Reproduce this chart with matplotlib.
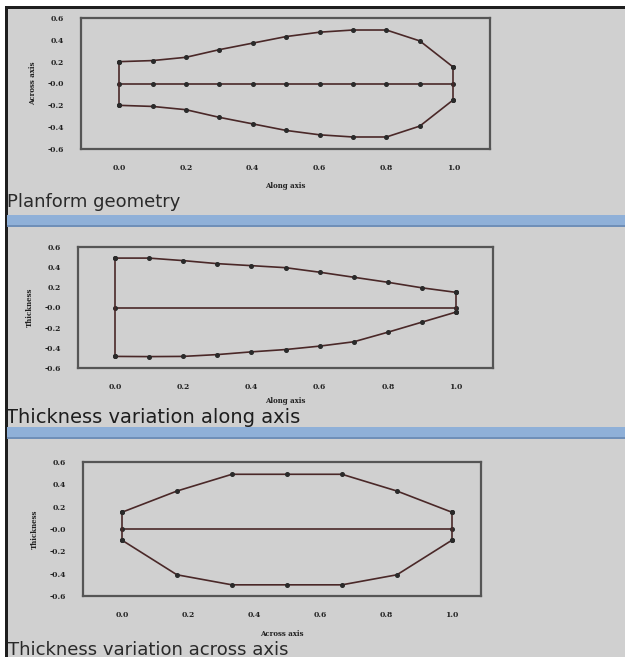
import numpy as np
import matplotlib
matplotlib.use("Agg")
import matplotlib.pyplot as plt
from matplotlib.patches import Rectangle

# ---------------- data ----------------
along_x = [0.0, 0.1, 0.2, 0.3, 0.4, 0.5, 0.6, 0.7, 0.8, 0.9, 1.0]
plan_upper = [0.20, 0.21, 0.24, 0.31, 0.37, 0.43, 0.47, 0.49, 0.49, 0.39, 0.15]
plan_lower = [-0.20, -0.21, -0.24, -0.31, -0.37, -0.43, -0.47, -0.49, -0.49, -0.39, -0.15]
plan_center = [0.0] * 11

thick_upper = [0.49, 0.49, 0.465, 0.435, 0.415, 0.395, 0.35, 0.30, 0.25, 0.195, 0.15]
thick_lower = [-0.485, -0.487, -0.485, -0.467, -0.44, -0.417, -0.383, -0.34, -0.245, -0.145, -0.045]

across_x = [0.0, 1/6, 2/6, 3/6, 4/6, 5/6, 1.0]
across_upper = [0.15, 0.34, 0.49, 0.49, 0.49, 0.34, 0.15]
across_lower = [-0.10, -0.41, -0.50, -0.50, -0.50, -0.41, -0.10]

x_ticks = [0.0, 0.2, 0.4, 0.6, 0.8, 1.0]
x_ticklabels = ["0.0", "0.2", "0.4", "0.6", "0.8", "1.0"]
y_ticks = [0.6, 0.4, 0.2, 0.0, -0.2, -0.4, -0.6]
y_ticklabels = ["0.6", "0.4", "0.2", "-0.0", "-0.2", "-0.4", "-0.6"]

panel_titles = ["Planform geometry", "Thickness variation along axis",
                "Thickness variation across axis"]

# ---------------- figure ----------------
W, H = 625, 657
BG = "#d0d0d0"
LINE = "#4a2828"
fig = plt.figure(figsize=(W / 100, H / 100), dpi=100)
fig.patch.set_facecolor(BG)

def fr(x, y, w, h):
    # pixel box (top-left origin) -> figure fraction
    return [x / W, 1 - (y + h) / H, w / W, h / H]

# window chrome
for (x, y, w, h, c) in [
    (0, 0, W, 6, "white"), (0, 0, 5, H, "white"),
    (5, 6, W - 5, 2.5, "#1e1e1e"), (5, 6, 2.5, H - 6, "#1e1e1e"),
    (7, 215, W - 7, 10, "#8fb0d8"), (7, 225, W - 7, 2, "#6f8fb8"),
    (7, 427, W - 7, 10, "#8fb0d8"), (7, 437, W - 7, 2, "#6f8fb8"),
]:
    b = fr(x, y, w, h)
    fig.patches.append(Rectangle((b[0], b[1]), b[2], b[3], transform=fig.transFigure,
                                 facecolor=c, edgecolor="none", zorder=0))

tick_font = dict(family="DejaVu Serif", weight="bold", size=5.5)
label_font = dict(family="DejaVu Serif", weight="bold", size=5)

def style_axes(ax, xlim, xlabel, ylabel, xlabelpad):
    ax.set_facecolor(BG)
    ax.set_xlim(*xlim)
    ax.set_ylim(-0.6, 0.6)
    ax.set_xticks(x_ticks)
    ax.set_xticklabels(x_ticklabels, **tick_font)
    ax.set_yticks(y_ticks)
    ax.set_yticklabels(y_ticklabels, **tick_font)
    ax.tick_params(length=0, colors="#222222")
    ax.tick_params(axis="x", pad=11)
    ax.tick_params(axis="y", pad=12)
    for s in ax.spines.values():
        s.set_color("#555555")
        s.set_linewidth(1.6)
    ax.set_xlabel(xlabel, labelpad=xlabelpad, color="#222222", **label_font)
    ax.set_ylabel(ylabel, labelpad=8, color="#222222", **label_font)

mk = dict(marker="o", markersize=2.6, markerfacecolor="#2a2a2a",
          markeredgecolor="#2a2a2a", color=LINE, linewidth=1.2)

# ---- panel 1 ----
ax1 = fig.add_axes(fr(81, 18, 409, 131))
ax1.plot(along_x, plan_upper, **mk)
ax1.plot(along_x, plan_lower, **mk)
ax1.plot(along_x, plan_center, **mk)
ax1.plot([along_x[0]] * 2, [plan_lower[0], plan_upper[0]], **mk)
ax1.plot([along_x[-1]] * 2, [plan_lower[-1], plan_upper[-1]], **mk)
style_axes(ax1, (-0.114, 1.11), "Along axis", "Across axis", 7)
fig.text(7 / W, 1 - 207 / H, panel_titles[0], fontsize=13, color="#2a2a2a",
         family="DejaVu Sans", va="baseline")

# ---- panel 2 ----
ax2 = fig.add_axes(fr(78, 247, 415, 121))
ax2.plot(along_x, thick_upper, **mk)
ax2.plot(along_x, thick_lower, **mk)
ax2.plot([along_x[0], along_x[-1]], [0.0, 0.0], **mk)
ax2.plot([along_x[0]] * 2, [thick_lower[0], thick_upper[0]], **mk)
ax2.plot([along_x[-1]] * 2, [thick_lower[-1], thick_upper[-1]], **mk)
style_axes(ax2, (-0.108, 1.108), "Along axis", "Thickness", 4)
fig.text(6 / W, 1 - 423 / H, panel_titles[1], fontsize=14, color="#1e1e1e",
         family="DejaVu Sans", va="baseline")

# ---- panel 3 ----
ax3 = fig.add_axes(fr(83, 462, 398, 134))
ax3.plot(across_x, across_upper, **mk)
ax3.plot(across_x, across_lower, **mk)
ax3.plot([across_x[0], across_x[-1]], [0.0, 0.0], **mk)
ax3.plot([across_x[0]] * 2, [across_lower[0], across_upper[0]], **mk)
ax3.plot([across_x[-1]] * 2, [across_lower[-1], across_upper[-1]], **mk)
style_axes(ax3, (-0.118, 1.088), "Across axis", "Thickness", 8)
fig.text(8 / W, 1 - 655 / H, panel_titles[2], fontsize=13, color="#2a2a2a",
         family="DejaVu Sans", va="baseline")

fig.savefig("out.png", dpi=100, facecolor=BG)
